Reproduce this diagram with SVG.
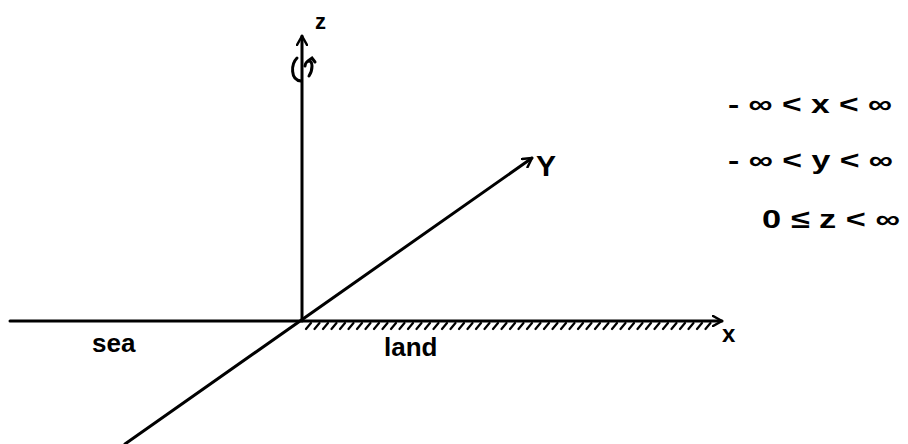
<svg xmlns="http://www.w3.org/2000/svg" width="908" height="444" viewBox="0 0 908 444">
<defs>
<style>
.ax{stroke:#000;stroke-width:3;fill:none;stroke-linecap:round}
.h{stroke:#000;stroke-width:2.2;stroke-linecap:round}
.t{font-family:"Liberation Sans",Arial,sans-serif;fill:#000;font-weight:bold}
.lab{font-size:26px}
.eq{font-size:26px}
</style>
<marker id="ah" viewBox="0 0 12 12" refX="10" refY="6" markerWidth="12" markerHeight="12" markerUnits="userSpaceOnUse" orient="auto">
<path d="M1,1 L10,6 L1,11" fill="none" stroke="#000" stroke-width="2.5" stroke-linecap="round" stroke-linejoin="round"/>
</marker>
</defs>
<rect width="908" height="444" fill="#fff"/>
<g id="axes">
<line class="ax" x1="10" y1="321" x2="722" y2="321" marker-end="url(#ah)"/>
<line class="ax" x1="302" y1="321" x2="302" y2="36" marker-end="url(#ah)"/>
<line class="ax" x1="125" y1="444" x2="532" y2="158" marker-end="url(#ah)"/>
</g>
<g id="rotation">
<path class="ax" d="M297,58 C291,64 290,80 301,81"/>
<path class="ax" d="M305,66 C306,60 312,59 312,66 C312,70 311,73 309,76"/>
<path class="ax" d="M308,61 L312,58 L315,62"/>
</g>
<g id="hatch">
<path class="h" d="M306,329l5,-6M314.5,329l5,-6M323,329l5,-6M331.5,329l5,-6M340,329l5,-6M348.5,329l5,-6M357,329l5,-6M365.5,329l5,-6M374,329l5,-6M382.5,329l5,-6M391,329l5,-6M399.5,329l5,-6M408,329l5,-6M416.5,329l5,-6M425,329l5,-6M433.5,329l5,-6M442,329l5,-6M450.5,329l5,-6M459,329l5,-6M467.5,329l5,-6M476,329l5,-6M484.5,329l5,-6M493,329l5,-6M501.5,329l5,-6M510,329l5,-6M518.5,329l5,-6M527,329l5,-6M535.5,329l5,-6M544,329l5,-6M552.5,329l5,-6M561,329l5,-6M569.5,329l5,-6M578,329l5,-6M586.5,329l5,-6M595,329l5,-6M603.5,329l5,-6M612,329l5,-6M620.5,329l5,-6M629,329l5,-6M637.5,329l5,-6M646,329l5,-6M654.5,329l5,-6M663,329l5,-6M671.5,329l5,-6M680,329l5,-6M688.5,329l5,-6M697,329l5,-6M705.5,329l5,-6"/>
</g>
<g id="labels">
<text class="t" x="315" y="29" font-size="22">z</text>
<text class="t" x="536" y="176" font-size="30">Y</text>
<text class="t" x="722" y="342" font-size="24">x</text>
<text class="t lab" x="92" y="352">sea</text>
<text class="t lab" x="384" y="356">land</text>
</g>
<g id="ranges">
<text class="t eq" x="728" y="113" textLength="164" lengthAdjust="spacingAndGlyphs">- ∞ &lt; x &lt; ∞</text>
<text class="t eq" x="728" y="169" textLength="165" lengthAdjust="spacingAndGlyphs">- ∞ &lt; y &lt; ∞</text>
<text class="t eq" x="762" y="228" textLength="138" lengthAdjust="spacingAndGlyphs">0 ≤ z &lt; ∞</text>
</g>
</svg>
